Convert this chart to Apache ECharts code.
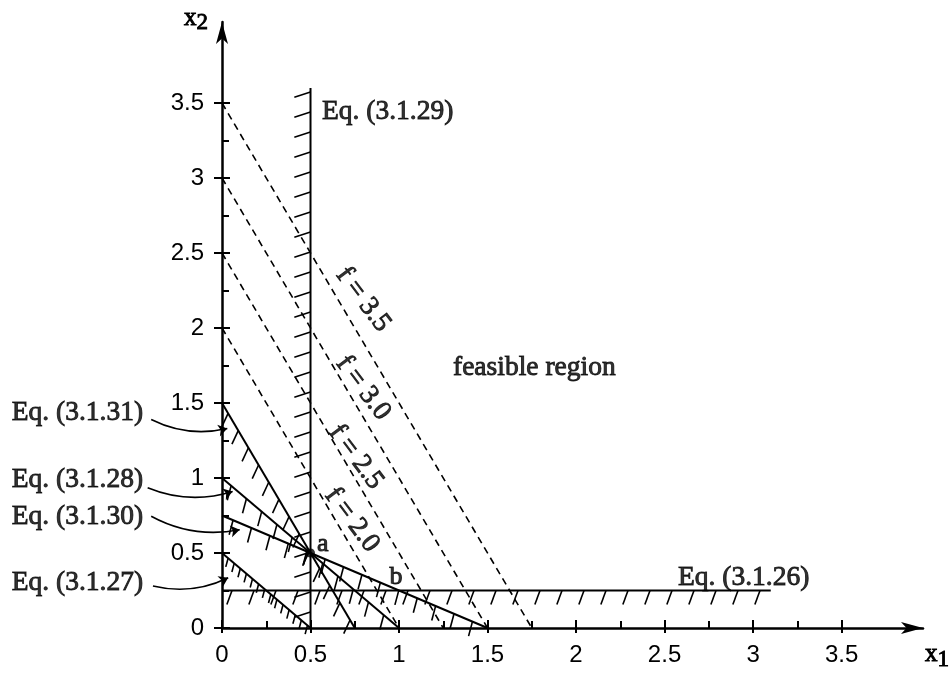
<!DOCTYPE html>
<html>
<head>
<meta charset="utf-8">
<script src="https://cdn.jsdelivr.net/npm/echarts@6/dist/echarts.min.js"></script>
<style>
  html, body { margin: 0; padding: 0; background: #fff; }
  #chart1 { width: 950px; height: 675px; }
</style>
</head>
<body>
<div id="chart1"></div>
<script>
// tick values of both axes
var xTicks = [0, 0.5, 1, 1.5, 2, 2.5, 3, 3.5];
var yTicks = [0, 0.5, 1, 1.5, 2, 2.5, 3, 3.5];
var xMinor = [0.25, 0.75, 1.25, 1.75, 2.25, 2.75, 3.25];
var yMinor = [0.25, 0.75, 1.25, 1.75, 2.25, 2.75, 3.25];

// constraint boundaries (start / end points)
var eqNames = ['Eq. (3.1.26)', 'Eq. (3.1.27)', 'Eq. (3.1.28)', 'Eq. (3.1.29)', 'Eq. (3.1.30)', 'Eq. (3.1.31)'];
var eqStart = [[0, 0.25], [0, 0.5], [0, 1], [0.5, 3.6], [0, 0.75], [0, 1.5]];
var eqEnd   = [[3.1, 0.25], [0.5, 0], [1, 0], [0.5, 0], [1.5, 0], [0.75, 0]];

// objective contours f = const (dashed)
var fNames = ['f = 2.0', 'f = 2.5', 'f = 3.0', 'f = 3.5'];
var fStart = [[0, 2], [0, 2.5], [0, 3], [0, 3.5]];
var fEnd   = [[1, 0], [1.25, 0], [1.5, 0], [1.75, 0]];

// corner points
var ptNames = ['a', 'b'];
var ptValues = [[0.5, 0.5], [1, 0.25]];

// ---- layout of the annotations (data units) ----
var fLabelPos = [[0.734, 0.72], [0.757, 1.14], [0.797, 1.60], [0.797, 2.19]];
var eqLabelPos = [[2.576, 0.333], [-0.446, 0.30], [-0.446, 0.987], [0.565, 3.44], [-0.446, 0.74], [-0.446, 1.433]];
var leaderFrom = { 1: [-0.39, 0.28], 2: [-0.42, 0.935], 4: [-0.40, 0.745], 5: [-0.40, 1.39] };
var leaderTo   = { 1: [0.035, 0.335], 2: [0.06, 0.91], 4: [0.10, 0.655], 5: [0.03, 1.33] };

// hatch style per boundary: angle (screen deg), length, gap, first offset (px)
var hatch = [
  { ang: 110, len: 15, gap: 22, first: 10 },
  { ang: 105, len: 9,  gap: 8,  first: 8 },
  { ang: 105, len: 15, gap: 20, first: 12 },
  { ang: 162, len: 17, gap: 20, first: 4 },
  { ang: 105, len: 15, gap: 20, first: 12 },
  { ang: 115, len: 15, gap: 20, first: 12 }
];

var SERIF = '"Liberation Serif", "DejaVu Serif", serif';
var SANS = '"Liberation Sans", Arial, sans-serif';
var INK = { color: '#000', textBorderColor: '#000', textBorderWidth: 0.9 };

function chart() {
  var mychart = echarts.init(document.getElementById('chart1'));

  function nameStyle(align, vAlign, padding) {
    return Object.assign({ fontFamily: SERIF, fontSize: 25, align: align, verticalAlign: vAlign, padding: padding,
      rich: { s: Object.assign({ fontFamily: SERIF, fontSize: 23, padding: [10, 0, 0, 0] }, INK) } }, INK);
  }

  function xAxisOf(ticks, inside, len, main) {
    return {
      type: 'value', min: 0, max: 3.96, position: 'bottom',
      axisLine: main ? { show: true, symbol: ['none', 'arrow'], symbolSize: [9, 22], lineStyle: { color: '#000', width: 2.5 } } : { show: false },
      axisTick: { show: true, inside: inside, length: len, customValues: ticks, lineStyle: { color: '#000', width: 2 } },
      axisLabel: main ? { customValues: xTicks, color: '#000', fontFamily: SANS, fontSize: 24, margin: 15 } : { show: false },
      splitLine: { show: false },
      name: main ? 'x{s|1}' : '',
      nameLocation: 'end',
      nameGap: 2,
      nameTextStyle: nameStyle('left', 'top', [10, 0, 0, 0])
    };
  }
  function yAxisOf(ticks, inside, len, main) {
    return {
      type: 'value', min: 0, max: 4.04, position: 'left',
      axisLine: main ? { show: true, symbol: ['none', 'arrow'], symbolSize: [9, 22], lineStyle: { color: '#000', width: 2.5 } } : { show: false },
      axisTick: { show: true, inside: inside, length: len, customValues: ticks, lineStyle: { color: '#000', width: 2 } },
      axisLabel: main ? { customValues: yTicks, color: '#000', fontFamily: SANS, fontSize: 24, margin: 18 } : { show: false },
      splitLine: { show: false },
      name: main ? 'x{s|2}' : '',
      nameLocation: 'end',
      nameGap: 4,
      nameTextStyle: nameStyle('right', 'middle', [0, 14, 0, 0])
    };
  }

  var series = [];

  // dashed contour lines
  fNames.forEach(function (n, i) {
    series.push({
      name: n, type: 'line', xAxisIndex: 0, yAxisIndex: 0,
      data: [fStart[i], fEnd[i]], symbol: 'none', silent: true,
      lineStyle: { color: '#000', width: 1.6, type: [7, 5] }
    });
  });

  // constraint lines with hatching on the infeasible side
  series.push({
    type: 'custom', coordinateSystem: 'cartesian2d', xAxisIndex: 0, yAxisIndex: 0, clip: false, silent: true,
    data: eqNames.map(function (n, i) { return [eqStart[i][0], eqStart[i][1], eqEnd[i][0], eqEnd[i][1], i]; }),
    encode: { x: [0, 2], y: [1, 3] },
    renderItem: function (params, api) {
      var p0 = api.coord([api.value(0), api.value(1)]);
      var p1 = api.coord([api.value(2), api.value(3)]);
      var st = hatch[api.value(4)];
      var dx = p1[0] - p0[0], dy = p1[1] - p0[1];
      var L = Math.sqrt(dx * dx + dy * dy);
      var a = st.ang * Math.PI / 180;
      var hx = Math.cos(a) * st.len, hy = Math.sin(a) * st.len;
      var kids = [{ type: 'line', shape: { x1: p0[0], y1: p0[1], x2: p1[0], y2: p1[1] }, style: { stroke: '#000', lineWidth: 2 } }];
      for (var d = st.first; d < L - 2; d += st.gap) {
        var x = p0[0] + dx * d / L, y = p0[1] + dy * d / L;
        kids.push({ type: 'line', shape: { x1: x, y1: y, x2: x + hx, y2: y + hy }, style: { stroke: '#000', lineWidth: 1.6 } });
      }
      return { type: 'group', children: kids };
    }
  });

  // leader lines from the left labels
  var leaders = [];
  Object.keys(leaderFrom).forEach(function (k) { leaders.push({ coords: [leaderFrom[k], leaderTo[k]] }); });
  series.push({
    type: 'lines', coordinateSystem: 'cartesian2d', xAxisIndex: 0, yAxisIndex: 0, clip: false, silent: true,
    symbol: ['none', 'arrow'], symbolSize: 9,
    lineStyle: { color: '#000', width: 1.6, curveness: -0.18, opacity: 1 },
    data: leaders
  });

  // text annotations
  var texts = [];
  eqNames.forEach(function (n, i) {
    var left = eqLabelPos[i][0] >= 0;
    texts.push({ value: eqLabelPos[i], label: { formatter: n, align: left ? 'left' : 'right' } });
  });
  texts.push({ value: [1.305, 1.733], label: { formatter: 'feasible region', align: 'left' } });
  fNames.forEach(function (n, i) {
    texts.push({ value: fLabelPos[i], label: { formatter: n, align: 'center', rotate: -53 } });
  });
  series.push({
    type: 'scatter', xAxisIndex: 0, yAxisIndex: 0, clip: false, silent: true, symbolSize: 0,
    label: Object.assign({ show: true, position: 'inside', verticalAlign: 'middle', fontFamily: SERIF, fontSize: 27.5 }, INK),
    data: texts
  });

  // corner points a, b
  series.push({
    type: 'scatter', xAxisIndex: 0, yAxisIndex: 0, silent: true,
    data: [
      { value: ptValues[0], name: ptNames[0], symbolSize: 9, label: { position: 'right', offset: [-3, -9] } },
      { value: ptValues[1], name: ptNames[1], symbolSize: 0, label: { position: 'top', offset: [-3, 5] } }
    ],
    itemStyle: { color: '#000' },
    label: Object.assign({ show: true, formatter: '{b}', fontFamily: SERIF, fontSize: 26 }, INK)
  });

  var option = {
    animation: false,
    backgroundColor: '#fff',
    grid: { left: 222, right: 27, top: 22, bottom: 47, containLabel: false, outerBoundsMode: 'none' },
    xAxis: [xAxisOf(xTicks, true, 8, true), xAxisOf(xTicks, false, 5, false), xAxisOf(xMinor, true, 7, false)],
    yAxis: [yAxisOf(yTicks, true, 8, true), yAxisOf(yTicks, false, 8, false), yAxisOf(yMinor, true, 7, false)],
    series: series
  };
  mychart.setOption(option);
}
chart();
</script>
</body>
</html>
